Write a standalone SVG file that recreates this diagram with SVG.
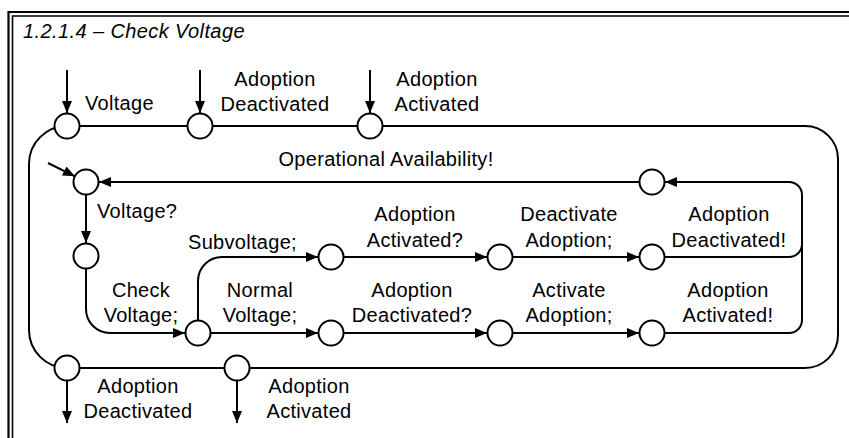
<svg xmlns="http://www.w3.org/2000/svg" width="849" height="438" viewBox="0 0 849 438">
<defs>
<marker id="arr" markerUnits="userSpaceOnUse" markerWidth="13" markerHeight="11" refX="12" refY="5" orient="auto">
<path d="M0,0 L12,5 L0,10 Z" fill="#000"/>
</marker>
<style>
.c{fill:#fff;stroke:#000;stroke-width:2}
.l{fill:none;stroke:#000;stroke-width:2}
.a{fill:none;stroke:#000;stroke-width:2;marker-end:url(#arr)}
text{font-family:"Liberation Sans",Arial,sans-serif;font-size:20px;fill:#000;letter-spacing:0.3px}
.m{text-anchor:middle}
.t{font-style:italic;font-size:20px;letter-spacing:0.4px}
</style>
</defs>
<rect width="849" height="438" fill="#fff"/>
<g id="frame">
<path d="M8.5,440 V12 H851" fill="none" stroke="#000" stroke-width="2.2"/>
<path d="M12.5,440 V16 H851" fill="none" stroke="#000" stroke-width="1.6"/>
<text class="t" x="23" y="38">1.2.1.4 – Check Voltage</text>
</g>
<g id="connectors">
<path class="l" d="M67,126 H805 A33,33 0 0 1 838,159 V335 A33,33 0 0 1 805,368 H67 A38,38 0 0 1 29,330 V164 A38,38 0 0 1 67,126 Z"/>
<path class="a" d="M67,70 V113"/>
<path class="a" d="M200,70 V113"/>
<path class="a" d="M370,70 V113"/>
<path class="a" d="M67,380 V423"/>
<path class="a" d="M237,380 V423"/>
<path class="a" d="M48,163 L75,176.3"/>
<path class="a" d="M86,194 V243"/>
<path class="a" d="M86,268 V309 A24,24 0 0 0 110,333 H185"/>
<path class="a" d="M198,321 V281 A24,24 0 0 1 222,257 H318"/>
<path class="a" d="M343,257 H487"/>
<path class="a" d="M512,257 H639"/>
<path class="a" d="M210,333 H318"/>
<path class="a" d="M343,333 H487"/>
<path class="a" d="M512,333 H639"/>
<path class="a" d="M664,257 H789 A13,13 0 0 0 802,244 V195 A13,13 0 0 0 789,182 H665"/>
<path class="l" d="M664,333 H789 A13,13 0 0 0 802,320 V240"/>
<path class="a" d="M640,182 H99"/>
</g>
<g id="in-voltage"><circle class="c" cx="67" cy="126" r="12.5"/></g>
<g id="in-adoption-deactivated"><circle class="c" cx="200" cy="126" r="12.5"/></g>
<g id="in-adoption-activated"><circle class="c" cx="370" cy="126" r="12.5"/></g>
<g id="out-adoption-deactivated"><circle class="c" cx="67" cy="368" r="12.5"/></g>
<g id="out-adoption-activated"><circle class="c" cx="237" cy="368" r="12.5"/></g>
<g id="s-start"><circle class="c" cx="86" cy="182" r="12.5"/></g>
<g id="s-voltage"><circle class="c" cx="86" cy="256" r="12.5"/></g>
<g id="s-check"><circle class="c" cx="198" cy="333" r="12.5"/></g>
<g id="s-sub1"><circle class="c" cx="331" cy="257" r="12.5"/></g>
<g id="s-sub2"><circle class="c" cx="500" cy="257" r="12.5"/></g>
<g id="s-sub3"><circle class="c" cx="652" cy="257" r="12.5"/></g>
<g id="s-norm1"><circle class="c" cx="331" cy="333" r="12.5"/></g>
<g id="s-norm2"><circle class="c" cx="500" cy="333" r="12.5"/></g>
<g id="s-norm3"><circle class="c" cx="652" cy="333" r="12.5"/></g>
<g id="s-avail"><circle class="c" cx="652" cy="182" r="12.5"/></g>
<g id="labels">
<text x="85" y="110">Voltage</text>
<text class="m" x="275" y="86">Adoption</text>
<text class="m" x="275" y="111">Deactivated</text>
<text class="m" x="437" y="86">Adoption</text>
<text class="m" x="437" y="111">Activated</text>
<text class="m" x="386" y="166">Operational Availability!</text>
<text x="97" y="218">Voltage?</text>
<text x="188" y="249">Subvoltage;</text>
<text class="m" x="141" y="297">Check</text>
<text class="m" x="141" y="322">Voltage;</text>
<text class="m" x="260" y="297">Normal</text>
<text class="m" x="260" y="322">Voltage;</text>
<text class="m" x="415" y="221">Adoption</text>
<text class="m" x="415" y="247">Activated?</text>
<text class="m" x="569" y="221">Deactivate</text>
<text class="m" x="569" y="247">Adoption;</text>
<text class="m" x="729" y="221">Adoption</text>
<text class="m" x="729" y="247">Deactivated!</text>
<text class="m" x="412" y="297">Adoption</text>
<text class="m" x="412" y="322">Deactivated?</text>
<text class="m" x="569" y="297">Activate</text>
<text class="m" x="569" y="322">Adoption;</text>
<text class="m" x="728" y="297">Adoption</text>
<text class="m" x="728" y="322">Activated!</text>
<text class="m" x="138" y="393">Adoption</text>
<text class="m" x="138" y="418">Deactivated</text>
<text class="m" x="309" y="393">Adoption</text>
<text class="m" x="309" y="418">Activated</text>
</g>
</svg>
